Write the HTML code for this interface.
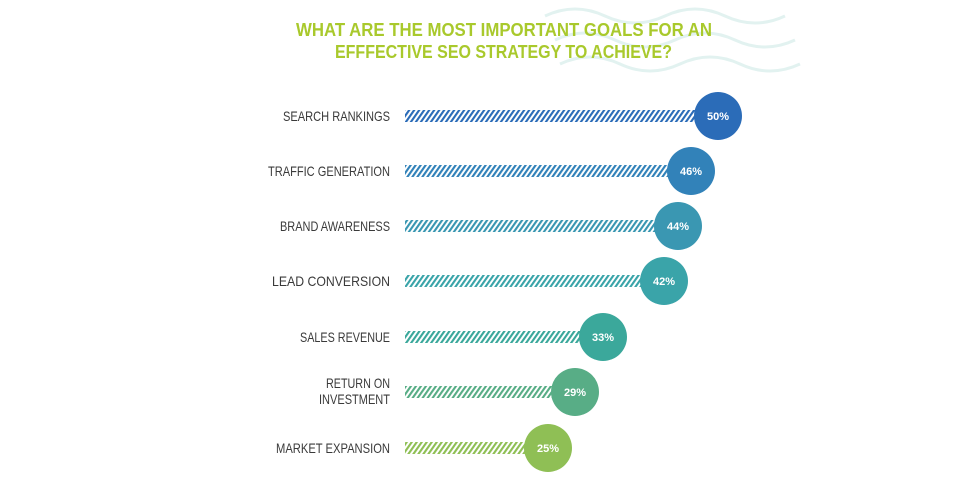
<!DOCTYPE html>
<html><head><meta charset="utf-8"><style>
body{margin:0;background:#fff;}
svg{display:block}
.t{font-family:"Liberation Sans",sans-serif;font-weight:bold;fill:#a9c92c;font-size:18px}
.l{font-family:"Liberation Sans",sans-serif;fill:#3a3a3a;font-size:14px}
.v{font-family:"Liberation Sans",sans-serif;font-weight:bold;fill:#fff;font-size:11px}
</style></head><body>
<svg width="960" height="480" viewBox="0 0 960 480">
<g fill="none" stroke="#e2f2f0" stroke-width="3">
<path d="M545 16 q30 -14 60 0 t60 0 t60 0 t60 0"/>
<path d="M555 40 q30 -14 60 0 t60 0 t60 0 t60 0"/>
<path d="M560 64 q30 -14 60 0 t60 0 t60 0 t60 0"/>
</g>
<text class="t" x="296" y="36" textLength="416" lengthAdjust="spacingAndGlyphs">WHAT ARE THE MOST IMPORTANT GOALS FOR AN</text>
<text class="t" x="335" y="58" textLength="337" lengthAdjust="spacingAndGlyphs">EFFFECTIVE SEO STRATEGY TO ACHIEVE?</text>
<g id="rows"></g>
</svg>
<script>
var d=[["SEARCH RANKINGS",107,null,0,116,718,"50%","#2b6cb8"],["TRAFFIC GENERATION",122,null,0,171,691,"46%","#3282b9"],["BRAND AWARENESS",110,null,0,226,678,"44%","#3a97b2"],["LEAD CONVERSION",118,null,0,281,664,"42%","#3aa4a9"],["SALES REVENUE",90,null,0,337,603,"33%","#3ba89b"],["RETURN ON",64,"INVESTMENT",71,392,575,"29%","#58ad86"],["MARKET EXPANSION",114,null,0,448,548,"25%","#8fbf55"]];
var g=document.getElementById('rows'),h='';
d.forEach(function(r,i){
 var y=r[4],cx=r[5],c=r[7];
 h+='<pattern id="p'+i+'" width="5" height="10" patternUnits="userSpaceOnUse" patternTransform="skewX(-35)"><rect width="2.6" height="10" fill="'+c+'"/></pattern>';
 h+='<rect x="405" y="'+(y-6)+'" width="'+(cx-405)+'" height="12" fill="url(#p'+i+')"/>';
 h+='<circle cx="'+cx+'" cy="'+y+'" r="24" fill="'+c+'"/>';
 h+='<text class="v" x="'+cx+'" y="'+(y+4)+'" text-anchor="middle">'+r[6]+'</text>';
 if(r[2]){h+='<text class="l" x="'+(390-r[1])+'" y="'+(y-4)+'" textLength="'+r[1]+'" lengthAdjust="spacingAndGlyphs">'+r[0]+'</text><text class="l" x="'+(390-r[3])+'" y="'+(y+12)+'" textLength="'+r[3]+'" lengthAdjust="spacingAndGlyphs">'+r[2]+'</text>';}
 else h+='<text class="l" x="'+(390-r[1])+'" y="'+(y+5)+'" textLength="'+r[1]+'" lengthAdjust="spacingAndGlyphs">'+r[0]+'</text>';
});
g.innerHTML=h;
</script>
</body></html>
